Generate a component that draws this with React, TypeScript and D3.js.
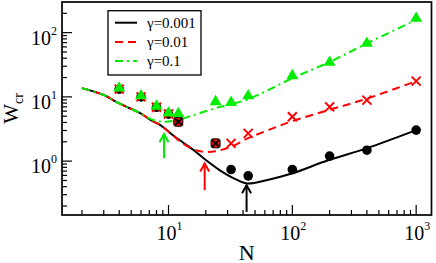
import * as d3 from "d3";

const W = 436;
const H = 263;

// symbol data (same N grid for all three gamma)
const N_PTS = [4, 6, 8, 10, 12, 24, 32, 44, 100, 200, 400, 1000];
const W_PTS_0001 = [13.2, 10.0, 6.9, 5.4, 4.1, 1.89, 0.74, 0.59, 0.74, 1.2, 1.48, 3.04];
const W_PTS_001 = [13.2, 10.0, 6.9, 5.4, 4.1, 1.89, 1.89, 2.7, 4.9, 7.0, 8.9, 17.6];
const W_PTS_01 = [13.2, 10.0, 6.9, 5.4, 5.3, 8.1, 7.9, 10.0, 20.6, 33.3, 65.7, 161];

// theory curves
const CURVE_N_0001 = [2, 3, 4, 5, 6, 7.2, 8.6, 10.4, 13, 16, 19.3, 26, 33.7, 43, 63, 99, 197, 396, 1000];
const CURVE_W_0001 = [13.7, 10.7, 7.9, 6.5, 5.5, 4.35, 3.64, 2.7, 1.97, 1.48, 1.1, 0.72, 0.54, 0.45, 0.51, 0.64, 1.04, 1.58, 3.04];
const CURVE_N_001 = [2, 3, 4, 5, 6, 7.2, 8.6, 10.4, 12.5, 16, 19.3, 24, 32, 44, 64, 100, 200, 400, 1000];
const CURVE_W_001 = [13.7, 10.7, 7.9, 6.5, 5.5, 4.35, 3.64, 2.7, 2.0, 1.52, 1.4, 1.43, 1.67, 2.28, 3.04, 4.2, 6.3, 9.4, 17.6];
const CURVE_N_01 = [2, 3, 4, 5, 6, 7.2, 8.6, 10, 12, 15, 18, 24, 32, 44, 100, 200, 400, 1000];
const CURVE_W_01 = [13.7, 10.7, 7.9, 6.5, 5.5, 4.5, 4.15, 4.15, 4.4, 5.0, 5.6, 6.7, 7.7, 9.2, 19.5, 35, 68, 158];

// arrows marking the minima
const ARROW_N = [42.7, 19.6, 9.2];
const ARROW_FROM = [0.162, 0.353, 1.11];
const ARROW_TO = [0.42, 0.92, 2.63];

const LEGEND = ["γ=0.001", "γ=0.01", "γ=0.1"];
const COLORS = ["#000000", "#ff0000", "#00ee00"];
const DASHES = ["none", "8,5", "8,4,2,4"];

const X_MAJOR = [10, 100, 1000];
const Y_MAJOR = [1, 10, 100];

const serif = '"Liberation Serif", "Times New Roman", "DejaVu Serif", serif';

export default function App() {
  const x = d3.scaleLog().domain([1.38, 1330]).range([62, 431.5]);
  const y = d3.scaleLog().domain([0.145, 300]).range([215, 2]);

  const [x0, x1] = x.range();
  const [y0, y1] = y.range();

  const line = d3
    .line<[number, number]>()
    .x((d) => x(d[0]))
    .y((d) => y(d[1]))
    .curve(d3.curveCatmullRom.alpha(0.5));

  const curves = [
    d3.zip(CURVE_N_0001, CURVE_W_0001),
    d3.zip(CURVE_N_001, CURVE_W_001),
    d3.zip(CURVE_N_01, CURVE_W_01),
  ] as [number, number][][];

  const minors = (dom: number[]) => {
    const out: number[] = [];
    for (let e = -2; e <= 4; e++) {
      for (let m = 2; m <= 9; m++) {
        const v = m * Math.pow(10, e);
        if (v > dom[0] && v < dom[1]) out.push(v);
      }
    }
    return out;
  };
  const xMinor = minors(x.domain());
  const yMinor = minors(y.domain());

  const tri = d3.symbol(d3.symbolTriangle, 62)();
  const same = (i: number) => W_PTS_0001[i] === W_PTS_001[i] && N_PTS[i] > 10;

  return (
    <svg
      width={W}
      height={H}
      style={{ position: "absolute", left: 0, top: 0, background: "#fff", fontFamily: serif }}
    >
      {/* curves */}
      {curves.map((c, i) => (
        <path
          key={i}
          d={line(c) || ""}
          fill="none"
          stroke={COLORS[i]}
          strokeWidth={2}
          strokeDasharray={DASHES[i]}
        />
      ))}

      {/* arrows */}
      {ARROW_N.map((n, i) => {
        const ax = x(n);
        const ya = y(ARROW_FROM[i]);
        const yb = y(ARROW_TO[i]);
        return (
          <g key={i} stroke={COLORS[i]} strokeWidth={2} fill="none">
            <line x1={ax} x2={ax} y1={ya} y2={yb} />
            <polyline points={`${ax - 4.5},${yb + 8} ${ax},${yb} ${ax + 4.5},${yb + 8}`} />
          </g>
        );
      })}

      {/* black circles */}
      {N_PTS.map((n, i) =>
        same(i) ? null : <circle key={"c" + i} cx={x(n)} cy={y(W_PTS_0001[i])} r={4.8} fill="#000" />
      )}
      {/* red crosses */}
      {N_PTS.map((n, i) => {
        if (same(i)) return null;
        const cx = x(n);
        const cy = y(W_PTS_001[i]);
        const s = 4.5;
        return (
          <path
            key={"x" + i}
            d={`M${cx - s},${cy - s}L${cx + s},${cy + s}M${cx - s},${cy + s}L${cx + s},${cy - s}`}
            stroke="#ff0000"
            strokeWidth={2}
          />
        );
      })}
      {/* coinciding black + red points */}
      {N_PTS.map((n, i) => {
        if (!same(i)) return null;
        const cx = x(n);
        const cy = y(W_PTS_001[i]);
        const s = 3.5;
        return (
          <g key={"o" + i}>
            <rect x={cx - 4.5} y={cy - 4.5} width={9} height={9} rx={2} fill="#ff0000" stroke="#000" strokeWidth={1} />
            <path
              d={`M${cx - s},${cy - s}L${cx + s},${cy + s}M${cx - s},${cy + s}L${cx + s},${cy - s}`}
              stroke="#000"
              strokeWidth={2}
            />
          </g>
        );
      })}
      {/* green triangles */}
      {N_PTS.map((n, i) => (
        <path key={"t" + i} d={tri || ""} transform={`translate(${x(n)},${y(W_PTS_01[i]) - 1})`} fill="#00ee00" />
      ))}

      {/* frame */}
      <rect x={x0} y={y1} width={x1 - x0} height={y0 - y1} fill="none" stroke="#000" strokeWidth={1.7} />

      {/* ticks */}
      <g stroke="#000" strokeWidth={1.2}>
        {X_MAJOR.map((v) => (
          <line key={v} x1={x(v)} x2={x(v)} y1={y0} y2={y0 - 10} />
        ))}
        {xMinor.map((v) => (
          <line key={v} x1={x(v)} x2={x(v)} y1={y0} y2={y0 - 5} />
        ))}
        {Y_MAJOR.map((v) => (
          <line key={v} x1={x0} x2={x0 + 10} y1={y(v)} y2={y(v)} />
        ))}
        {yMinor.map((v) => (
          <line key={v} x1={x0} x2={x0 + 5} y1={y(v)} y2={y(v)} />
        ))}
      </g>

      {/* tick labels */}
      {X_MAJOR.map((v) => (
        <text key={v} x={x(v) + 1} y={240} textAnchor="middle" fontSize={20}>
          10
          <tspan dy={-10} fontSize={12}>
            {Math.round(Math.log10(v))}
          </tspan>
        </text>
      ))}
      {Y_MAJOR.map((v) => (
        <text key={v} x={57} y={y(v) + 12} textAnchor="end" fontSize={20}>
          10
          <tspan dy={-10} fontSize={12}>
            {Math.round(Math.log10(v))}
          </tspan>
        </text>
      ))}

      {/* axis titles */}
      <text x={(x0 + x1) / 2} y={259.5} textAnchor="middle" fontSize={22}>
        N
      </text>
      <text transform={`translate(18,${(y0 + y1) / 2}) rotate(-90)`} textAnchor="middle" fontSize={21}>
        W
        <tspan dy={5} fontSize={14}>
          cr
        </tspan>
      </text>

      {/* legend */}
      <rect x={108} y={10.7} width={93} height={64.3} fill="#fff" stroke="#000" strokeWidth={1.3} />
      {LEGEND.map((l, i) => (
        <g key={l}>
          <line
            x1={115}
            x2={137}
            y1={22.7 + i * 19.2}
            y2={22.7 + i * 19.2}
            stroke={COLORS[i]}
            strokeWidth={2}
            strokeDasharray={DASHES[i]}
          />
          <text x={147} y={28 + i * 19.2} fontSize={15}>
            {l}
          </text>
        </g>
      ))}
    </svg>
  );
}
